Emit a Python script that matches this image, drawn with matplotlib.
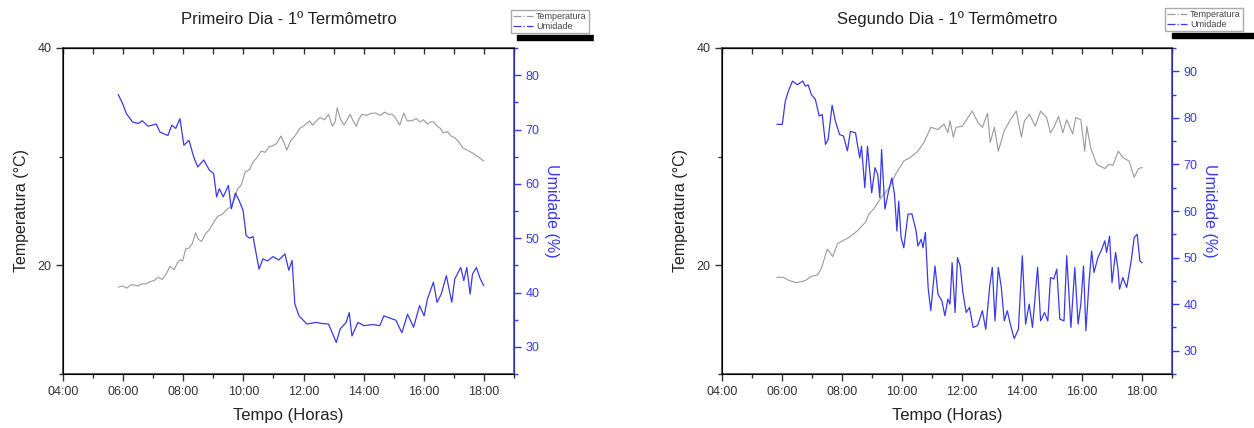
import matplotlib

matplotlib.use("Agg")
import matplotlib.pyplot as plt  # noqa: E402
from matplotlib.lines import Line2D  # noqa: E402
from matplotlib.patches import Rectangle  # noqa: E402
from matplotlib.ticker import FuncFormatter, MultipleLocator  # noqa: E402

plt.rcParams["font.family"] = ["Liberation Sans", "DejaVu Sans"]

# ---- data (hours of day) -----------------------------------------------------
dia1_temp_t = [5.84, 5.98, 6.12, 6.25, 6.37, 6.5, 6.64, 6.77, 6.9, 7.03, 7.16, 7.3,
               7.43, 7.56, 7.7, 7.8, 7.89, 7.98, 8.08, 8.2, 8.3, 8.41, 8.5, 8.61,
               8.74, 8.87, 9.0, 9.14, 9.3, 9.47, 9.6, 9.72, 9.8, 9.93, 10.06, 10.2,
               10.32, 10.45, 10.59, 10.72, 10.85, 10.98, 11.1, 11.25, 11.35, 11.44,
               11.58, 11.71, 11.88, 12.04, 12.2, 12.3, 12.43, 12.55, 12.7, 12.83,
               12.96, 13.05, 13.12, 13.22, 13.35, 13.45, 13.55, 13.65, 13.75, 13.85,
               13.95, 14.1, 14.25, 14.41, 14.55, 14.7, 14.82, 14.94, 15.05, 15.2,
               15.33, 15.45, 15.6, 15.75, 15.88, 15.99, 16.12, 16.22, 16.32, 16.45,
               16.55, 16.65, 16.78, 16.91, 17.05, 17.18, 17.3, 17.45, 17.58, 17.7,
               17.85, 17.99]
dia1_temp = [18.0, 18.1, 17.9, 18.2, 18.2, 18.1, 18.3, 18.3, 18.5, 18.6, 18.9, 18.7,
             19.2, 19.9, 19.6, 20.2, 20.5, 20.4, 21.5, 21.6, 22.0, 23.0, 22.4, 22.2,
             22.9, 23.3, 23.9, 24.5, 24.7, 25.2, 25.4, 26.2, 27.0, 27.4, 28.6, 28.8,
             29.5, 29.9, 30.5, 30.4, 30.9, 31.0, 31.2, 31.9, 31.3, 30.6, 31.5, 31.9,
             32.6, 32.9, 33.3, 32.9, 33.3, 33.6, 33.4, 33.9, 32.8, 33.2, 34.5, 33.5,
             32.9, 33.4, 33.9, 33.3, 32.8, 33.5, 33.9, 33.8, 34.0, 34.0, 33.8, 34.1,
             33.9, 33.9, 33.6, 32.9, 34.0, 33.3, 33.3, 33.5, 33.2, 33.4, 33.0, 33.2,
             33.2, 32.8, 32.6, 32.2, 32.3, 31.9, 31.7, 31.3, 30.8, 30.6, 30.4, 30.2,
             29.9, 29.6]

dia1_umid_t = [5.84, 5.98, 6.11, 6.31, 6.5, 6.64, 6.83, 7.1, 7.23, 7.49, 7.62, 7.75,
               7.89, 8.02, 8.19, 8.35, 8.48, 8.68, 8.87, 9.01, 9.11, 9.2, 9.33, 9.5,
               9.6, 9.73, 9.86, 9.99, 10.09, 10.2, 10.32, 10.52, 10.65, 10.8, 10.98,
               11.18, 11.38, 11.51, 11.62, 11.71, 11.85, 12.11, 12.43, 12.6, 12.83,
               13.09, 13.22, 13.42, 13.52, 13.61, 13.81, 14.01, 14.3, 14.54, 14.67,
               15.07, 15.27, 15.46, 15.66, 15.86, 16.01, 16.12, 16.32, 16.44, 16.58,
               16.75, 16.93, 17.03, 17.23, 17.33, 17.43, 17.54, 17.62, 17.75, 17.88,
               17.99]
dia1_umid = [76.4, 74.8, 72.9, 71.4, 71.1, 71.6, 70.6, 71.0, 69.5, 68.9, 70.8, 70.2,
             72.0, 67.1, 68.0, 64.9, 63.1, 64.4, 62.5, 61.9, 57.6, 59.1, 57.6, 59.7,
             55.4, 58.3, 56.9, 55.1, 50.5, 50.0, 50.3, 44.3, 46.2, 45.8, 46.6, 46.0,
             47.1, 44.1, 45.9, 37.9, 35.7, 34.2, 34.5, 34.3, 34.2, 30.8, 33.3, 34.5,
             36.3, 32.0, 34.5, 33.9, 34.1, 33.9, 35.7, 34.9, 32.6, 36.0, 33.6, 37.6,
             35.7, 38.8, 41.9, 38.2, 39.7, 43.1, 38.2, 42.5, 44.6, 42.2, 44.6, 39.7,
             43.4, 44.6, 42.5, 41.3]

dia2_temp_t = [5.84, 6.04, 6.24, 6.48, 6.78, 6.98, 7.18, 7.31, 7.51, 7.69, 7.85, 8.05,
               8.25, 8.52, 8.79, 8.89, 9.06, 9.32, 9.59, 9.79, 10.06, 10.26, 10.53,
               10.73, 10.96, 11.2, 11.4, 11.53, 11.6, 11.71, 11.8, 12.01, 12.34, 12.54,
               12.68, 12.85, 12.94, 13.08, 13.21, 13.41, 13.61, 13.81, 13.98, 14.08,
               14.25, 14.44, 14.62, 14.82, 14.95, 15.08, 15.22, 15.36, 15.49, 15.69,
               15.79, 15.96, 16.09, 16.16, 16.29, 16.49, 16.76, 16.9, 17.03, 17.21,
               17.37, 17.57, 17.74, 17.88, 18.0]
dia2_temp = [18.9, 18.9, 18.6, 18.4, 18.6, 19.0, 19.1, 19.7, 21.5, 20.8, 22.0, 22.3,
             22.6, 23.2, 24.0, 24.7, 25.2, 26.3, 27.2, 28.4, 29.6, 29.9, 30.5, 31.3,
             32.7, 32.5, 33.0, 32.2, 33.3, 31.8, 32.7, 32.8, 34.2, 33.1, 32.7, 34.0,
             31.3, 32.7, 30.5, 32.4, 33.4, 34.2, 31.8, 33.3, 33.9, 32.8, 34.2, 33.6,
             32.2, 32.8, 33.7, 32.2, 33.4, 32.1, 33.6, 33.4, 30.5, 32.8, 30.8, 29.3,
             28.9, 29.3, 29.2, 30.5, 29.9, 29.6, 28.1, 28.9, 29.0]

dia2_umid_t = [5.84, 6.01, 6.11, 6.21, 6.35, 6.51, 6.69, 6.78, 6.87, 6.98, 7.11, 7.24,
               7.34, 7.45, 7.54, 7.67, 7.78, 7.92, 8.05, 8.18, 8.28, 8.45, 8.59, 8.65,
               8.76, 8.85, 8.99, 9.1, 9.19, 9.26, 9.32, 9.43, 9.53, 9.66, 9.75, 9.83,
               9.89, 9.97, 10.06, 10.2, 10.33, 10.47, 10.53, 10.64, 10.7, 10.78, 10.87,
               10.96, 11.1, 11.2, 11.33, 11.43, 11.53, 11.6, 11.67, 11.77, 11.85,
               11.94, 12.03, 12.14, 12.25, 12.37, 12.52, 12.68, 12.79, 12.92, 13.01,
               13.1, 13.21, 13.31, 13.41, 13.51, 13.61, 13.74, 13.88, 14.01, 14.12,
               14.24, 14.35, 14.52, 14.62, 14.75, 14.86, 14.95, 15.06, 15.16, 15.26,
               15.4, 15.49, 15.63, 15.76, 15.87, 15.96, 16.05, 16.13, 16.23, 16.32,
               16.4, 16.53, 16.66, 16.76, 16.82, 16.92, 17.0, 17.12, 17.2, 17.25,
               17.36, 17.49, 17.64, 17.74, 17.84, 17.93, 18.0]
dia2_umid = [78.6, 78.6, 83.6, 85.7, 87.9, 87.1, 87.9, 86.8, 87.1, 85.0, 84.0, 80.4,
             80.7, 74.3, 75.4, 82.7, 79.3, 76.4, 76.1, 72.9, 77.1, 76.8, 71.4, 73.9,
             65.0, 73.9, 63.9, 69.3, 67.9, 62.9, 73.2, 60.4, 63.6, 67.1, 63.6, 55.7,
             62.1, 54.3, 52.1, 59.3, 59.4, 55.7, 52.5, 53.9, 52.1, 55.4, 43.6, 38.6,
             48.2, 42.1, 40.7, 37.5, 41.1, 40.0, 48.9, 38.2, 50.0, 48.2, 42.5, 38.2,
             39.3, 35.0, 35.4, 38.6, 34.6, 43.6, 47.9, 36.4, 47.9, 43.6, 36.4, 38.6,
             35.7, 32.6, 34.6, 50.4, 35.7, 40.0, 35.0, 47.9, 36.4, 38.2, 36.4, 45.7,
             45.4, 47.5, 36.8, 36.4, 50.4, 35.0, 47.9, 35.7, 40.0, 48.2, 34.3, 44.3,
             51.4, 46.8, 50.0, 51.8, 53.6, 51.1, 54.6, 44.6, 51.1, 47.5, 43.2, 45.7,
             43.6, 49.3, 54.3, 55.0, 49.3, 48.9]

titulos = ["Primeiro Dia - 1º Termômetro", "Segundo Dia - 1º Termômetro"]
umid_lim = [(25, 85), (25, 95)]

GRAY = "#9a9a9a"
BLUE = "#3a3ae6"
INK = "#333333"
W, H = 1254, 428

fig = plt.figure(figsize=(W / 100, H / 100), dpi=100)


def hora(x, _pos):
    return f"{int(round(x)):02d}:00"


def painel(x0, x1, t_t, temp, u_t, umid, titulo, ulim):
    ax = fig.add_axes([x0 / W, 1 - 374 / H, (x1 - x0) / W, (374 - 48) / H])
    ax.plot(t_t, temp, color=GRAY, lw=0.8)
    ax.set_xlim(4, 19)
    ax.set_ylim(10, 40)
    ax.xaxis.set_major_locator(MultipleLocator(2))
    ax.xaxis.set_minor_locator(MultipleLocator(1))
    ax.xaxis.set_major_formatter(FuncFormatter(hora))
    ax.yaxis.set_major_locator(MultipleLocator(20))
    ax.yaxis.set_minor_locator(MultipleLocator(10))
    ax.tick_params(which="major", length=5, width=1.0, labelsize=9, colors=INK)
    ax.tick_params(which="minor", length=3, width=1.0, colors=INK)
    for s in ("left", "bottom", "top"):
        ax.spines[s].set_color(INK)
        ax.spines[s].set_linewidth(1.1)
    ax.set_xlabel("Tempo (Horas)", fontsize=12, color="#222222", labelpad=7)
    ax.set_ylabel("Temperatura (°C)", fontsize=11.5, color="#222222", labelpad=6)
    ax.set_title(titulo, fontsize=12, color="#222222", pad=17)

    top = ax.secondary_xaxis("top")
    top.xaxis.set_major_locator(MultipleLocator(1))
    top.tick_params(direction="in", length=4, width=1.0, labeltop=False, colors=INK)

    ax2 = ax.twinx()
    ax2.plot(u_t, umid, color=BLUE, lw=0.9)
    ax2.set_ylim(*ulim)
    ax2.yaxis.set_major_locator(MultipleLocator(10))
    ax2.yaxis.set_minor_locator(MultipleLocator(5))
    ax2.tick_params(which="major", length=5, width=1.0, labelsize=9, colors=BLUE)
    ax2.tick_params(which="minor", length=3, width=1.0, colors=BLUE)
    ax2.spines["right"].set_color(BLUE)
    ax2.spines["right"].set_linewidth(1.1)
    ax2.set_ylabel("Umidade (%)", fontsize=11.5, color=BLUE, rotation=270, labelpad=14)
    return ax


def legenda(x0, y0, x1, bar_x0):
    handles = [Line2D([], [], color=GRAY, lw=0.9, ls="-."),
               Line2D([], [], color=BLUE, lw=0.9, ls="-.")]
    fig.legend(handles, ["Temperatura", "Umidade"], loc="upper left",
               bbox_to_anchor=(x0 / W, 1 - y0 / H), fontsize=6.5, frameon=True,
               fancybox=False, edgecolor="#aaaaaa", framealpha=1, borderpad=0.25,
               handlelength=2.2, handletextpad=0.3, labelspacing=0.1,
               borderaxespad=0, labelcolor="#444444")
    fig.patches.append(Rectangle((bar_x0 / W, 1 - (y0 + 30) / H), (x1 - bar_x0) / W,
                                 5 / H, transform=fig.transFigure, color="black",
                                 zorder=10))


painel(63, 514, dia1_temp_t, dia1_temp, dia1_umid_t, dia1_umid, titulos[0], umid_lim[0])
painel(722, 1172, dia2_temp_t, dia2_temp, dia2_umid_t, dia2_umid, titulos[1], umid_lim[1])

legenda(511, 10, 594, 517)
legenda(1165, 8, 1254, 1172)
# the first legend is cut off at the edge of its panel image
fig.patches.append(Rectangle((594 / W, 1 - 45 / H), 40 / W, 45 / H,
                             transform=fig.transFigure, color="white", zorder=20))

fig.savefig("out.png", dpi=100)
